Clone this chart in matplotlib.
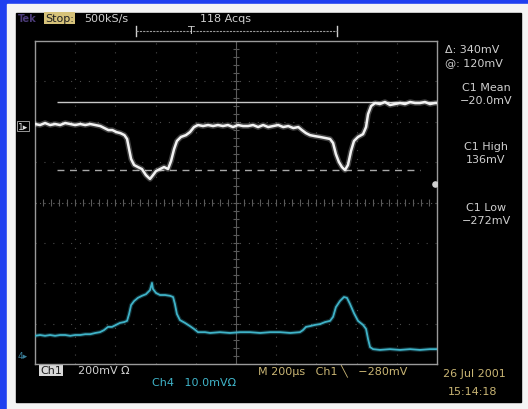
import numpy as np
import matplotlib.pyplot as plt
from matplotlib.patches import Rectangle

# Ch1 trace (time in us, level in mV) - 200 mV/div
ch1_t = [0, 25, 50, 75, 100, 125, 150, 175, 200, 225, 250, 275, 300, 325, 345, 365,
         385, 405, 425, 445, 458, 468, 478, 493, 512, 532, 552, 572, 587, 602, 622,
         642, 662, 677, 692, 706, 726, 751, 771, 791, 811, 836, 861, 886, 910, 935,
         960, 985, 1010, 1035, 1060, 1085, 1110, 1135, 1160, 1185, 1210, 1235, 1260,
         1285, 1310, 1328, 1348, 1368, 1393, 1418, 1443, 1468, 1483, 1497, 1512, 1527,
         1542, 1557, 1572, 1587, 1607, 1632, 1647, 1657, 1672, 1692, 1716, 1741, 1766,
         1791, 1816, 1841, 1866, 1891, 1915, 1940, 1965, 1990, 2000]
ch1_mv = [10, 5, 15, 5, 10, 5, 15, 10, 5, 10, 5, 10, 5, 0, -10, -20,
          -20, -30, -35, -45, -64, -114, -163, -193, -203, -213, -243, -262, -243, -223, -213,
          -203, -213, -173, -114, -74, -54, -45, -30, -5, 5, 0, 5, 0, 5, 0,
          5, -5, 5, 0, 0, 5, -5, 5, -5, 0, 5, -5, 0,
          -10, -5, -20, -35, -45, -50, -54, -59, -64, -84, -139, -178, -203,
          -218, -193, -124, -74, -54, -40, -5, 59, 99, 114, 109, 119, 104,
          109, 114, 109, 119, 114, 114, 119, 109, 114, 114]

# Ch4 trace (time in us, level in mV) - 10 mV/div
ch4_t = [0, 25, 50, 75, 100, 125, 150, 175, 200, 225, 250, 275, 300, 323, 343, 363,
         383, 403, 423, 443, 458, 468, 478, 493, 512, 532, 552, 572, 582, 587, 602,
         622, 647, 672, 687, 696, 706, 721, 746, 771, 791, 811, 846, 871, 920, 970,
         1020, 1070, 1120, 1170, 1220, 1270, 1318, 1333, 1348, 1368, 1393, 1418, 1443,
         1468, 1483, 1497, 1517, 1537, 1552, 1567, 1587, 1607, 1632, 1647, 1657, 1667,
         1682, 1716, 1766, 1816, 1866, 1915, 1965, 2000]
ch4_mv = [5.0, 5.2, 5.0, 5.2, 5.0, 5.2, 5.2, 5.0, 5.2, 5.2, 5.4, 5.4, 5.7, 5.9, 6.4, 7.2,
          7.2, 7.7, 8.2, 8.4, 8.7, 10.4, 12.6, 13.6, 14.4, 14.9, 15.3, 16.3, 18.1, 16.6, 15.6,
          15.1, 15.1, 14.9, 14.6, 12.9, 10.4, 8.9, 8.2, 7.4, 6.7, 5.9, 5.9, 5.7, 5.9, 5.7,
          5.9, 5.9, 5.7, 5.9, 5.9, 5.7, 5.9, 6.4, 7.2, 7.4, 7.7, 7.9, 8.4,
          8.7, 9.7, 12.1, 13.6, 14.6, 14.4, 12.9, 10.6, 8.7, 7.7, 6.7, 4.2, 2.2,
          1.7, 1.5, 1.7, 1.5, 1.7, 1.5, 1.7, 1.7]

# cursors and measurement readouts
cursor_a = 120
cursor_b = cursor_a - 340
marker_t, marker_mv = 1990, -287

ch1_ylim = (-1178, 421)
ch4_ylim = (-1.98, 78.0)
t_span = (0, 2000)
n_xdiv, n_ydiv = 10, 8

txt = "#cfcfcf"
yel = "#c9b574"
cyan = "#3fb3c8"

fig = plt.figure(figsize=(5.28, 4.10), dpi=100)
fig.patch.set_facecolor("#1f3ff0")

# frame / background (pixel coordinates)
bg = fig.add_axes([0, 0, 1, 1])
bg.set_xlim(0, 528)
bg.set_ylim(410, 0)
bg.axis("off")
bg.add_patch(Rectangle((7, 5), 521, 405, color="#f4f4f4"))
bg.add_patch(Rectangle((16, 14), 505, 389, color="black"))

fs = 8
bg.text(18, 19, "Tek", color="#4b3b78", fontsize=7, va="center", fontweight="bold")
bg.text(45, 19, "Stop:", color="#202020", fontsize=fs, va="center",
        bbox=dict(boxstyle="square,pad=0.1", fc="#d6c27a", ec="none"))
bg.text(84, 19, "500kS/s", color=txt, fontsize=fs, va="center")
bg.text(200, 19, "118 Acqs", color=txt, fontsize=fs, va="center")
bg.plot([136, 136], [27, 37], color=txt, lw=1)
bg.plot([337, 337], [27, 37], color=txt, lw=1)
bg.plot([136, 337], [32, 32], color="#9a9a9a", lw=0.8, ls=(0, (2, 1)))
bg.text(191, 31, "T", color=txt, fontsize=fs, ha="center", va="center")

bg.text(445, 50, "\u0394: 340mV", color=txt, fontsize=fs, va="center")
bg.text(445, 63, "@: 120mV", color=txt, fontsize=fs, va="center")
for y, s in [(88, "C1 Mean"), (101, "\u221220.0mV"), (147, "C1 High"),
             (160, "136mV"), (208, "C1 Low"), (221, "\u2212272mV")]:
    bg.text(486, y, s, color=txt, fontsize=fs, ha="center", va="center")

bg.text(40, 371, "Ch1", color="#202020", fontsize=fs, va="center",
        bbox=dict(boxstyle="square,pad=0.1", fc="#d8d8d8", ec="none"))
bg.text(78, 371, "200mV \u2126", color=txt, fontsize=fs, va="center")
bg.text(258, 371, "M 200\u00b5s   Ch1 \u2572   \u2212280mV", color=yel, fontsize=fs, va="center")
bg.text(152, 383, "Ch4   10.0mV\u2126", color=cyan, fontsize=fs, va="center")
bg.text(443, 374, "26 Jul 2001", color=yel, fontsize=fs, va="center")
bg.text(448, 392, "15:14:18", color=yel, fontsize=fs, va="center")

bg.text(18, 127, "1\u25b8", color="#e0e0e0", fontsize=6.5, va="center",
        bbox=dict(boxstyle="square,pad=0.1", fc="black", ec="#b0b0b0", lw=0.6))
bg.text(18, 357, "4\u25b8", color="#3a7f9a", fontsize=6.5, va="center")

# graticule axes (Ch1 scale)
ax = fig.add_axes([35 / 528, 45 / 410, 402 / 528, 323 / 410])
ax.set_facecolor("none")
ax.set_xlim(*t_span)
ax.set_ylim(*ch1_ylim)
ax.set_xticks([])
ax.set_yticks([])
for sp in ax.spines.values():
    sp.set_color("#9a9a9a")
    sp.set_linewidth(1)

gx = np.linspace(t_span[0], t_span[1], n_xdiv + 1)
gy = np.linspace(ch1_ylim[0], ch1_ylim[1], n_ydiv + 1)
for x in gx[1:-1]:
    ax.axvline(x, color="#4a4a4a", lw=0.8, ls=(0, (1, 7)))
for y in gy[1:-1]:
    ax.axhline(y, color="#4a4a4a", lw=0.8, ls=(0, (1, 7)))
cx = gx[n_xdiv // 2]
cy = gy[n_ydiv // 2]
ax.axvline(cx, color="#5a5a5a", lw=0.8)
ax.axhline(cy, color="#5a5a5a", lw=0.8, ls=(0, (1, 3)))
dx = (t_span[1] - t_span[0]) / n_xdiv / 5
dy = (ch1_ylim[1] - ch1_ylim[0]) / n_ydiv / 5
ax.vlines(np.arange(t_span[0], t_span[1] + 1, dx), cy - dy * 0.4, cy + dy * 0.4,
          color="#5a5a5a", lw=0.8)
ax.hlines(np.arange(ch1_ylim[0], ch1_ylim[1] + 1, dy), cx - dx * 0.4, cx + dx * 0.4,
          color="#5a5a5a", lw=0.8)

# cursors
ax.hlines(cursor_a, 110, 2000, color="#c8c8c8", lw=1)
ax.hlines(cursor_b, 110, 1915, color="#a8a8a8", lw=1, ls=(0, (5, 4)))
ax.scatter([marker_t], [marker_mv], s=14, color="#d0d0d0", zorder=5)

# Ch1 trace
ax.plot(ch1_t, ch1_mv, color="white", lw=4, alpha=0.25, zorder=3)
ax.plot(ch1_t, ch1_mv, color="#f2f2f2", lw=1.8, zorder=4)

# Ch4 trace on its own scale
ax4 = ax.twinx()
ax4.set_ylim(*ch4_ylim)
ax4.set_yticks([])
ax4.axis("off")
ax4.plot(ch4_t, ch4_mv, color=cyan, lw=3, alpha=0.25)
ax4.plot(ch4_t, ch4_mv, color=cyan, lw=1.3)

fig.savefig("out.png", dpi=100, facecolor=fig.get_facecolor())
